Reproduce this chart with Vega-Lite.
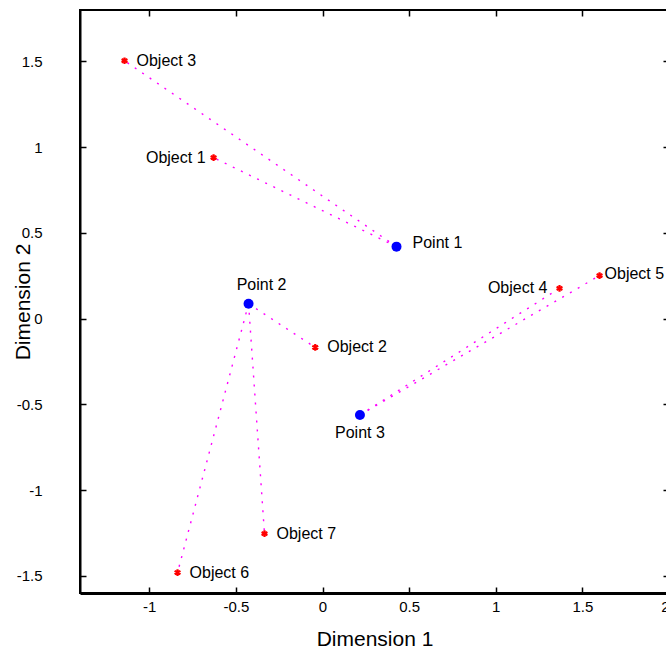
{
  "$schema": "https://vega.github.io/schema/vega-lite/v6.json",
  "width": 589,
  "height": 583,
  "autosize": {"type": "none"},
  "padding": {"left": 80, "top": 10, "right": 0, "bottom": 61},
  "background": "white",
  "config": {
    "view": {"stroke": "black", "strokeWidth": 2},
    "font": "Liberation Sans",
    "axis": {"grid": false, "labelFont": "Liberation Sans", "titleFont": "Liberation Sans", "labelFontSize": 15, "titleFontSize": 21, "titleFontWeight": "normal", "labelColor": "black", "titleColor": "black", "domainColor": "black", "tickColor": "black", "tickWidth": 1.5}
  },
  "datasets": {
    "pts": [
      {"name": "Object 1", "kind": "Object", "x": -0.629, "y": 0.939},
      {"name": "Object 2", "kind": "Object", "x": -0.042, "y": -0.168},
      {"name": "Object 3", "kind": "Object", "x": -1.143, "y": 1.504},
      {"name": "Object 4", "kind": "Object", "x": 1.368, "y": 0.177},
      {"name": "Object 5", "kind": "Object", "x": 1.599, "y": 0.251},
      {"name": "Object 6", "kind": "Object", "x": -0.837, "y": -1.481},
      {"name": "Object 7", "kind": "Object", "x": -0.335, "y": -1.254},
      {"name": "Point 1", "kind": "Point", "x": 0.427, "y": 0.42},
      {"name": "Point 2", "kind": "Point", "x": -0.427, "y": 0.087},
      {"name": "Point 3", "kind": "Point", "x": 0.216, "y": -0.562}
    ],
    "edges": [
      {"from": "Point 1", "to": "Object 3", "x1": 0.427, "y1": 0.42, "x2": -1.143, "y2": 1.504},
      {"from": "Point 1", "to": "Object 1", "x1": 0.427, "y1": 0.42, "x2": -0.629, "y2": 0.939},
      {"from": "Point 2", "to": "Object 2", "x1": -0.427, "y1": 0.087, "x2": -0.042, "y2": -0.168},
      {"from": "Point 2", "to": "Object 6", "x1": -0.427, "y1": 0.087, "x2": -0.837, "y2": -1.481},
      {"from": "Point 2", "to": "Object 7", "x1": -0.427, "y1": 0.087, "x2": -0.335, "y2": -1.254},
      {"from": "Point 3", "to": "Object 4", "x1": 0.216, "y1": -0.562, "x2": 1.368, "y2": 0.177},
      {"from": "Point 3", "to": "Object 5", "x1": 0.216, "y1": -0.562, "x2": 1.599, "y2": 0.251}
    ]
  },
  "resolve": {"axis": {"x": "independent", "y": "independent"}},
  "layer": [
    {
      "data": {"name": "edges"},
      "mark": {"type": "rule", "color": "#ff00ff", "strokeWidth": 1.4, "strokeDash": [2, 7]},
      "encoding": {
        "x": {"field": "x1", "type": "quantitative", "scale": {"domain": [-1.4, 2.0], "nice": false, "zero": false},
          "axis": {"orient": "bottom", "title": "Dimension 1", "values": [-1, -0.5, 0, 0.5, 1, 1.5, 2], "labelExpr": "datum.value + ''", "tickSize": -6, "labelPadding": 12, "domainWidth": 3, "titlePadding": 14}},
        "y": {"field": "y1", "type": "quantitative", "scale": {"domain": [-1.6, 1.8], "nice": false, "zero": false},
          "axis": {"orient": "left", "title": "Dimension 2", "values": [-1.5, -1, -0.5, 0, 0.5, 1, 1.5], "labelExpr": "datum.value + ''", "tickSize": -6, "labelPadding": 44, "domainWidth": 2, "titleX": -47, "titleBaseline": "bottom"}},
        "x2": {"field": "x2"},
        "y2": {"field": "y2"}
      }
    },
    {
      "data": {"name": "pts"},
      "transform": [{"filter": "datum.kind == 'Object'"}],
      "mark": {"type": "point", "shape": "M0,-1L0,1M-0.87,-0.5L0.87,0.5M-0.87,0.5L0.87,-0.5", "filled": false, "stroke": "#ff0000", "strokeWidth": 2.2, "size": 45, "opacity": 1},
      "encoding": {
        "x": {"field": "x", "type": "quantitative", "axis": null},
        "y": {"field": "y", "type": "quantitative", "axis": null}
      }
    },
    {
      "data": {"name": "pts"},
      "transform": [{"filter": "datum.kind == 'Point'"}],
      "mark": {"type": "point", "shape": "circle", "filled": true, "color": "#0000ff", "opacity": 1, "size": 100},
      "encoding": {
        "x": {"field": "x", "type": "quantitative", "axis": null},
        "y": {"field": "y", "type": "quantitative", "axis": null}
      }
    },
    {
      "data": {"name": "pts"},
      "transform": [{"filter": {"field": "name", "oneOf": ["Object 2", "Object 3", "Object 6", "Object 7"]}}],
      "mark": {"type": "text", "align": "left", "baseline": "middle", "dx": 12, "fontSize": 16, "font": "Liberation Sans", "color": "black"},
      "encoding": {
        "x": {"field": "x", "type": "quantitative", "axis": null},
        "y": {"field": "y", "type": "quantitative", "axis": null},
        "text": {"field": "name"}
      }
    },
    {
      "data": {"name": "pts"},
      "transform": [{"filter": {"field": "name", "oneOf": ["Point 1"]}}],
      "mark": {"type": "text", "align": "left", "baseline": "middle", "dx": 16, "dy": -4, "fontSize": 16, "font": "Liberation Sans", "color": "black"},
      "encoding": {
        "x": {"field": "x", "type": "quantitative", "axis": null},
        "y": {"field": "y", "type": "quantitative", "axis": null},
        "text": {"field": "name"}
      }
    },
    {
      "data": {"name": "pts"},
      "transform": [{"filter": {"field": "name", "oneOf": ["Object 5"]}}],
      "mark": {"type": "text", "align": "left", "baseline": "middle", "dx": 5, "dy": -2, "fontSize": 16, "font": "Liberation Sans", "color": "black"},
      "encoding": {
        "x": {"field": "x", "type": "quantitative", "axis": null},
        "y": {"field": "y", "type": "quantitative", "axis": null},
        "text": {"field": "name"}
      }
    },
    {
      "data": {"name": "pts"},
      "transform": [{"filter": {"field": "name", "oneOf": ["Object 1"]}}],
      "mark": {"type": "text", "align": "right", "baseline": "middle", "dx": -8, "fontSize": 16, "font": "Liberation Sans", "color": "black"},
      "encoding": {
        "x": {"field": "x", "type": "quantitative", "axis": null},
        "y": {"field": "y", "type": "quantitative", "axis": null},
        "text": {"field": "name"}
      }
    },
    {
      "data": {"name": "pts"},
      "transform": [{"filter": {"field": "name", "oneOf": ["Object 4"]}}],
      "mark": {"type": "text", "align": "right", "baseline": "middle", "dx": -12, "fontSize": 16, "font": "Liberation Sans", "color": "black"},
      "encoding": {
        "x": {"field": "x", "type": "quantitative", "axis": null},
        "y": {"field": "y", "type": "quantitative", "axis": null},
        "text": {"field": "name"}
      }
    },
    {
      "data": {"name": "pts"},
      "transform": [{"filter": {"field": "name", "oneOf": ["Point 2"]}}],
      "mark": {"type": "text", "align": "center", "baseline": "middle", "dy": -19, "dx": 13, "fontSize": 16, "font": "Liberation Sans", "color": "black"},
      "encoding": {
        "x": {"field": "x", "type": "quantitative", "axis": null},
        "y": {"field": "y", "type": "quantitative", "axis": null},
        "text": {"field": "name"}
      }
    },
    {
      "data": {"name": "pts"},
      "transform": [{"filter": {"field": "name", "oneOf": ["Point 3"]}}],
      "mark": {"type": "text", "align": "center", "baseline": "middle", "dy": 18, "fontSize": 16, "font": "Liberation Sans", "color": "black"},
      "encoding": {
        "x": {"field": "x", "type": "quantitative", "axis": null},
        "y": {"field": "y", "type": "quantitative", "axis": null},
        "text": {"field": "name"}
      }
    },
    {
      "data": {"name": "pts"},
      "mark": {"type": "point", "opacity": 0},
      "encoding": {
        "x": {"field": "x", "type": "quantitative",
          "axis": {"orient": "top", "title": null, "values": [-1, -0.5, 0, 0.5, 1, 1.5, 2], "labels": false, "tickSize": -6, "domain": false}},
        "y": {"field": "y", "type": "quantitative",
          "axis": {"orient": "right", "title": null, "values": [-1.5, -1, -0.5, 0, 0.5, 1, 1.5], "labels": false, "tickSize": -6, "domain": false}}
      }
    }
  ]
}
